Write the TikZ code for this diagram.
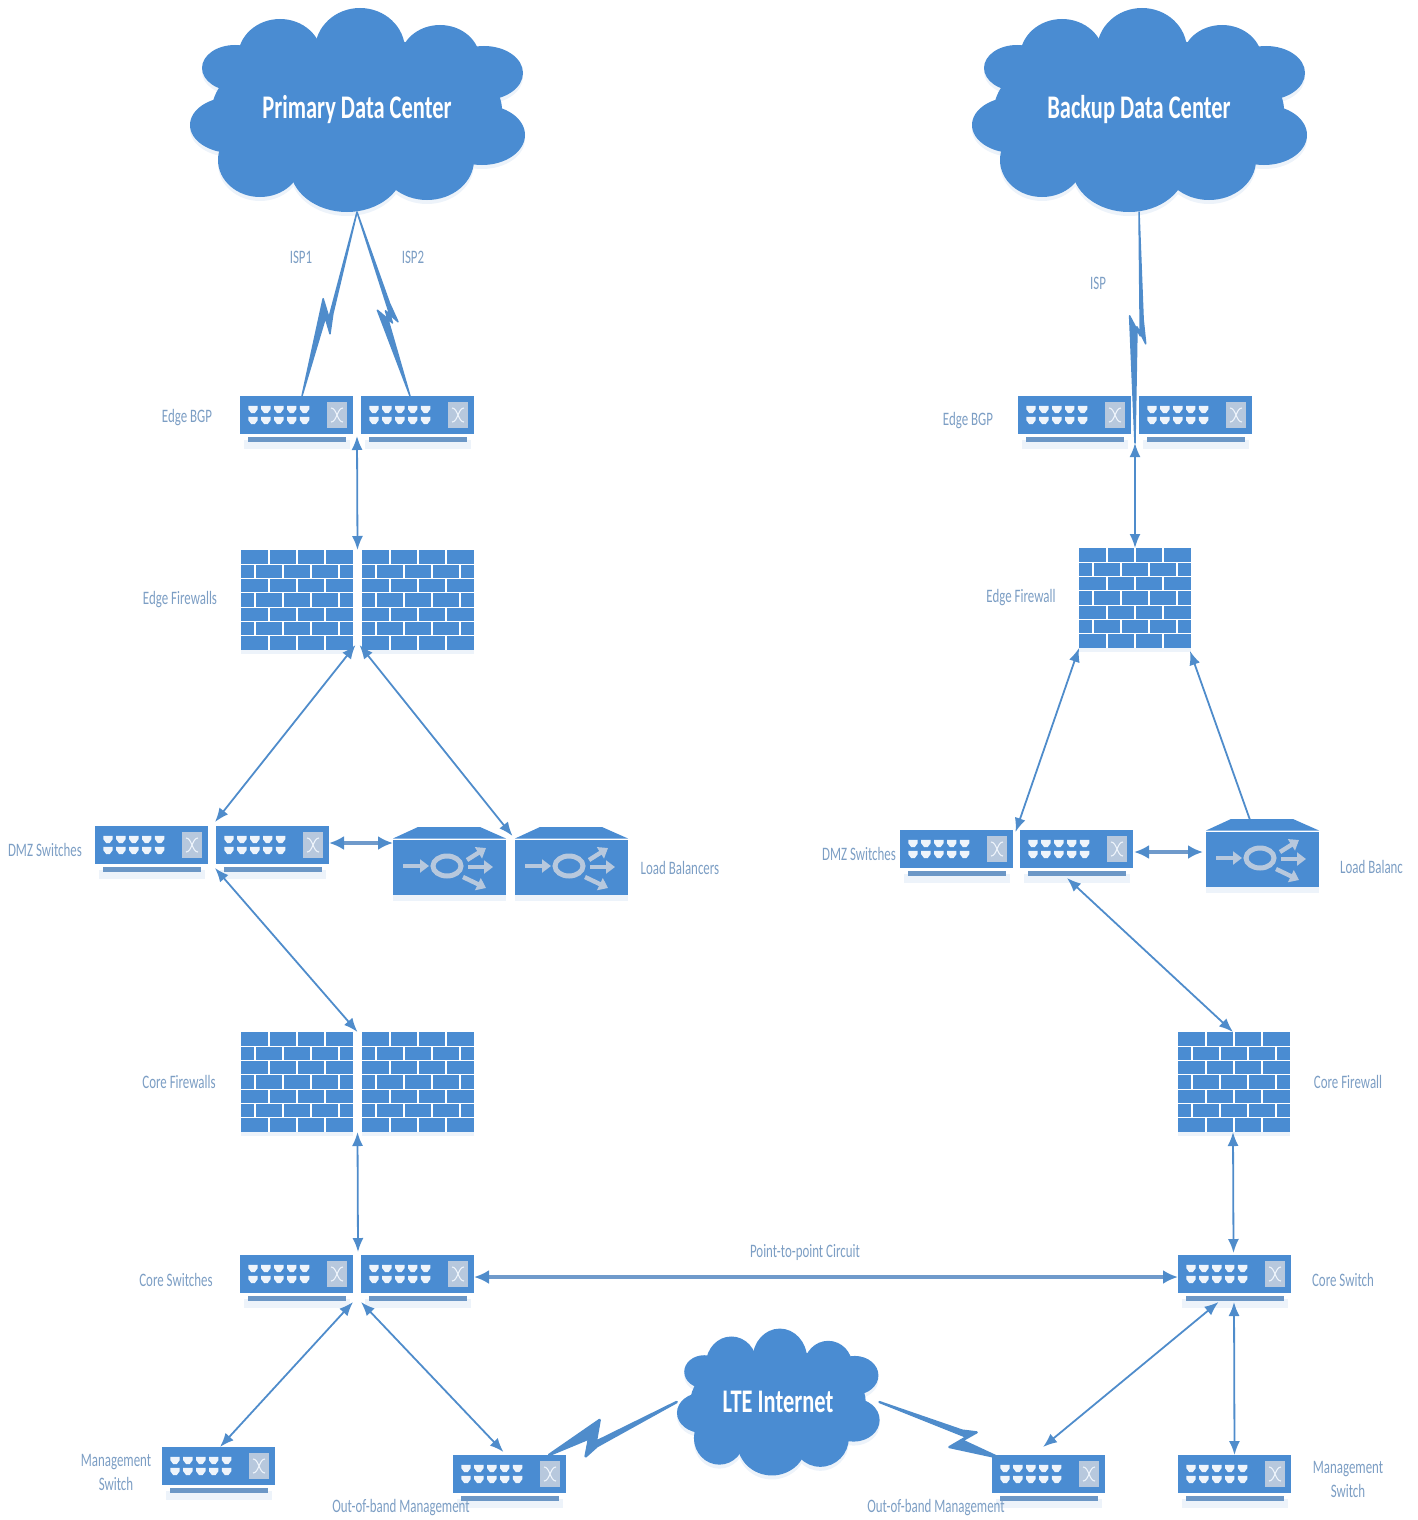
\documentclass[tikz,border=0pt]{standalone}
\usepackage{fontspec}
\setmainfont{Carlito}[FakeStretch=0.68]
\usetikzlibrary{arrows.meta,calc}
\definecolor{netblue}{HTML}{4A8CD2}
\definecolor{barblue}{HTML}{6C97C6}
\definecolor{linkblue}{HTML}{4F8CCB}
\definecolor{thickblue}{HTML}{6F9ACB}
\definecolor{paleshade}{HTML}{EDF3FA}
\definecolor{iconpale}{HTML}{B7C8DD}
\definecolor{portwhite}{HTML}{EEF4FB}
\definecolor{labelblue}{HTML}{7C9EC4}
\tikzset{
  x=1pt,y=-1pt,
  swbody/.style={draw=none,fill=netblue,minimum width=113pt,minimum height=38pt,inner sep=0pt,outer sep=0pt},
  fwbody/.style={draw=none,fill=netblue,minimum width=112pt,minimum height=100pt,inner sep=0pt,outer sep=0pt},
  lbbody/.style={draw=none,fill=netblue,minimum width=113pt,minimum height=55pt,inner sep=0pt,outer sep=0pt},
  cloudbody/.style={draw=none,fill=none,inner sep=0pt,outer sep=0pt,text=white,font=\fontsize{33}{33}\selectfont\bfseries},
  lbl/.style={text=labelblue,font=\fontsize{19}{24}\selectfont,inner sep=0pt,align=center,yshift=-1pt},
  link/.style={draw=linkblue,line width=1.8pt,{Latex[length=14pt,width=11pt]}-{Latex[length=14pt,width=11pt]}},
  linkone/.style={draw=linkblue,line width=1.8pt,-{Latex[length=14pt,width=11pt]}},
  linkthick/.style={draw=thickblue,line width=3.6pt,{Latex[length=15pt,width=14pt,color=linkblue]}-{Latex[length=15pt,width=14pt,color=linkblue]}},
  boltfill/.style={fill=linkblue,draw=linkblue,line join=round},
  fwline/.style={draw=white,line width=1.2pt},
  lbicon/.style={draw=iconpale,line width=4.4pt,-{Triangle[length=9pt,width=13pt,color=iconpale]}},
}
\newcommand\Sw[3]{%
  \fill[paleshade] (#2+4,#3+44) rectangle (#2+110,#3+53);
  \node[swbody] (#1) at (#2+56.5,#3+19) {};
  \fill[barblue] (#2+8,#3+41) rectangle (#2+106,#3+46);
  \begin{scope}[shift={(#1.north west)}]
    \foreach \i in {0,...,4}\foreach \j in {0,1}{
      \fill[portwhite] ({13+12.9*\i-4.7},{13.5+11*\j-3.7}) -- ++(9.4,0) -- ++(0,3.4) -- ++(-3,4) -- ++(-3.4,0) -- ++(-3,-4) -- cycle;
    }
    \fill[iconpale] (87,6) rectangle (107,32);
    \draw[portwhite,line width=1.1pt] (91,12) .. controls (97,12) and (97,26) .. (103,26);
    \draw[portwhite,line width=1.1pt] (91,26) .. controls (97,26) and (97,12) .. (103,12);
  \end{scope}}
\newcommand\Fw[3]{%
  \fill[paleshade] (#2,#3+100) rectangle (#2+112,#3+104);
  \node[fwbody] (#1) at (#2+56,#3+50) {};
  \begin{scope}[shift={(#1.north west)}]
    \foreach \k in {1,...,6} \draw[fwline] (0,{\k*100/7}) -- (112,{\k*100/7});
    \foreach \k in {0,2,4,6}\foreach \f in {.25,.5,.75}
      \draw[fwline] ({112*\f},{\k*100/7}) -- ({112*\f},{(\k+1)*100/7});
    \foreach \k in {1,3,5}\foreach \f in {.125,.375,.625,.875}
      \draw[fwline] ({112*\f},{\k*100/7}) -- ({112*\f},{(\k+1)*100/7});
  \end{scope}}
\newcommand\Lb[3]{%
  \fill[paleshade] (#2,#3+55) rectangle (#2+113,#3+61);
  \node[lbbody] (#1) at (#2+56.5,#3+27.5) {};
  \begin{scope}[shift={(#1.north west)}]
    \fill[netblue] (0,-1.5) -- (25,-13) -- (87,-13) -- (113,-1.5) -- cycle;
    \draw[lbicon] (10,26) -- (36,26);
    \draw[iconpale,line width=5pt] (54,26) ellipse [x radius=14,y radius=10];
    \draw[lbicon] (74,20) -- (93,8);
    \draw[lbicon] (75,27) -- (100,27);
    \draw[lbicon] (70,37) -- (93,48);
  \end{scope}}
\newcommand\CloudShape[1]{%
  \foreach \a/\b/\c/\d in {0/0/145/72, 3/-60/45/42, -77/-53/42/38, 83/-50/40/35, -122/-42/33/23, -125/15/42/28, 127/-37/39/27, 125/25/43/30, -97/50/42/37, -10/57/57/45, 70/50/47/40}
    \fill[#1] (\a,\b) ellipse [x radius=\c,y radius=\d];}
\newcommand\Cloud[6]{% name, x, y, xscale, yscale, text
  \begin{scope}[shift={(#2,#3+4)},xscale=#4,yscale=#5]\CloudShape{paleshade}\end{scope}
  \begin{scope}[shift={(#2,#3)},xscale=#4,yscale=#5]\CloudShape{netblue}\end{scope}
  \node[cloudbody,minimum width={335pt*#4},minimum height={204pt*#5}] (#1) at (#2,#3) {\raisebox{-2pt}{#6}};}
\newcommand\Bolt[5]{% a, b, t of left tip, t of right tip, size
  \pgfmathsetmacro\boltA{#4-.105}\pgfmathsetmacro\boltB{#4-.073}\pgfmathsetmacro\boltC{#3+.086}%
  \pgfmathsetmacro\offA{6*#5}\pgfmathsetmacro\offB{9*#5}\pgfmathsetmacro\offC{-7.6*#5}\pgfmathsetmacro\offD{3.4*#5}%
  \pgfmathsetmacro\boltW{1.5*#5}%
  \filldraw[boltfill,line width=\boltW pt] (#1)
    -- ($(#1)!\boltA!(#2)!\offA pt!90:(#2)$)
    -- ($(#1)!#4!(#2)!\offB pt!90:(#2)$)
    -- ($(#1)!\boltB!(#2)$)
    -- (#2)
    -- ($(#1)!#3!(#2)!\offC pt!90:(#2)$)
    -- ($(#1)!\boltC!(#2)!\offD pt!90:(#2)$)
    -- cycle;}
\begin{document}
\begin{tikzpicture}
\useasboundingbox (0,0) rectangle (1417,1520);
% clouds
\Cloud{primary}{357}{110}{1}{1}{Primary Data Center}
\Cloud{backup}{1139}{110}{1}{1}{Backup Data Center}
\Cloud{lte}{778}{1402}{.605}{.72}{LTE Internet}
% primary site
\Sw{bgpa}{240}{396}\Sw{bgpb}{361}{396}
\Fw{efa}{241}{550}\Fw{efb}{362}{550}
\Sw{dmza}{95}{826}\Sw{dmzb}{216}{826}
\Lb{lba}{393}{840}\Lb{lbb}{515}{840}
\Fw{cfa}{241}{1032}\Fw{cfb}{362}{1032}
\Sw{csa}{240}{1255}\Sw{csb}{361}{1255}
\Sw{mgmta}{162}{1447}
\Sw{ooba}{453}{1455}
% backup site
\Sw{bbgpa}{1018}{396}\Sw{bbgpb}{1139}{396}
\Fw{bef}{1079}{548}
\Sw{bdmza}{900}{830}\Sw{bdmzb}{1020}{830}
\Lb{blb}{1206}{832}
\Fw{bcf}{1178}{1032}
\Sw{bcs}{1178}{1255}
\Sw{bmgmt}{1178}{1455}
\Sw{boob}{992}{1455}
% junction points in the gaps between paired devices
\coordinate (bgpgap) at ($(bgpa.south east)!.5!(bgpb.south west)+(0,2)$);
\coordinate (eftop) at ($(efa.north east)!.5!(efb.north west)$);
\coordinate (efbot) at ($(efa.south east)!.5!(efb.south west)$);
\coordinate (dmztop) at ($(dmza.north east)!.5!(dmzb.north west)+(3,-4)$);
\coordinate (dmzbot) at ($(dmza.south east)!.5!(dmzb.south west)+(3,4)$);
\coordinate (lbgap) at ($(lba.north east)!.5!(lbb.north west)+(2,-4)$);
\coordinate (cftop) at ($(cfa.north east)!.5!(cfb.north west)$);
\coordinate (cfbot) at ($(cfa.south east)!.5!(cfb.south west)$);
\coordinate (cstop) at ($(csa.north east)!.5!(csb.north west)+(1,-3)$);
\coordinate (csbot) at ($(csa.south east)!.5!(csb.south west)+(0,9)$);
\coordinate (bbgpgap) at ($(bbgpa.south east)!.5!(bbgpb.south west)+(0,9)$);
\coordinate (bdmzgap) at ($(bdmza.north east)!.5!(bdmzb.north west)+(-1,2)$);
\coordinate (ispa) at ($(bgpa.north)+(5.5,0)$);
\coordinate (ispb) at ($(bgpb.north)+(-7.5,0)$);
\coordinate (oobal) at ($(ooba.north)+(-6,-3)$);
\coordinate (oobbr) at ($(boob.north)+(-5.5,-8)$);
\coordinate (ooblte) at ($(ooba.north east)+(-17,0)$);
\coordinate (boblte) at ($(boob.north west)+(8,3)$);
\coordinate (dmzport) at ($(dmzb.east)+(0,-2)$);
\coordinate (bdmzport) at ($(bdmzb.east)+(1,3)$);
\coordinate (csport) at ($(csb.east)+(0,3)$);
% connectors
\draw[link] (bgpgap) -- (eftop);
\draw[link] ($(efbot)+(-2,-5)$) -- (dmztop);
\draw[link] ($(efbot)+(2,-5)$) -- (lbgap);
\draw[linkthick] (dmzport) -- (dmzport -| lba.west);
\draw[link] (dmzbot) -- (cftop);
\draw[link] (cfbot) -- (cstop);
\draw[link] ($(csbot)+(-4,0)$) -- ($(mgmta.north)+(1.5,0)$);
\draw[link] ($(csbot)+(4,0)$) -- (oobal);
\draw[linkthick] (csport) -- (csport -| bcs.west);
\draw[link] (bbgpgap) -- (bef.north);
\draw[link] (bdmzgap) -- (bef.south west);
\draw[linkone] ($(blb.north)+(-12.5,-12)$) -- ($(bef.south east)+(-1,3)$);
\draw[linkthick] (bdmzport) -- ($(bdmzport -| blb.west)+(-3,0)$);
\draw[link] ($(bdmzb.south)+(-9.5,10)$) -- ($(bcf.north)+(-1,0)$);
\draw[link] ($(bcf.south)+(-1,0)$) -- ($(bcs.north)+(-1,-2)$);
\draw[link] ($(bcs.south)+(-16,9)$) -- (oobbr);
\draw[link] ($(bcs.south)+(-.5,9)$) -- (bmgmt.north);
% ISP and LTE links
\Bolt{primary.south}{ispa}{.483}{.648}{1}
\Bolt{primary.south}{ispb}{.522}{.61}{1}
\Bolt{backup.south}{bbgpgap}{.45}{.57}{1}
\Bolt{lte.west}{ooblte}{.565}{.759}{1.7}
\Bolt{lte.east}{boblte}{.62}{.76}{1.5}
% labels
\node[lbl] (tisp1) at (301,256) {ISP1};
\node[lbl] (tisp2) at (413,256) {ISP2};
\node[lbl] (tisp) at (1098,282) {ISP};
\node[lbl] (tebgp) at (187,417) {Edge BGP};
\node[lbl] (tefw) at (180,599) {Edge Firewalls};
\node[lbl] (tdmz) at (45,849) {DMZ Switches};
\node[lbl] (tlb) at (680,867) {Load Balancers};
\node[lbl] (tcfw) at (179,1081) {Core Firewalls};
\node[lbl] (tcsw) at (176,1279) {Core Switches};
\node[lbl] (tmg) at (116,1471) {Management\\Switch};
\node[lbl] (toob) at (401,1507) {Out-of-band Management};
\node[lbl] (tp2p) at (805,1251) {Point-to-point Circuit};
\node[lbl] (tbebgp) at (968,420) {Edge BGP};
\node[lbl] (tbefw) at (1021,597) {Edge Firewall};
\node[lbl] (tbdmz) at (859,853) {DMZ Switches};
\node[lbl,anchor=west] (tblb) at (1340,866) {Load Balanc};
\node[lbl] (tbcfw) at (1348,1081) {Core Firewall};
\node[lbl] (tbcsw) at (1343,1279) {Core Switch};
\node[lbl] (tbmg) at (1348,1478) {Management\\Switch};
\node[lbl] (tboob) at (936,1507) {Out-of-band Management};
\end{tikzpicture}
\end{document}
